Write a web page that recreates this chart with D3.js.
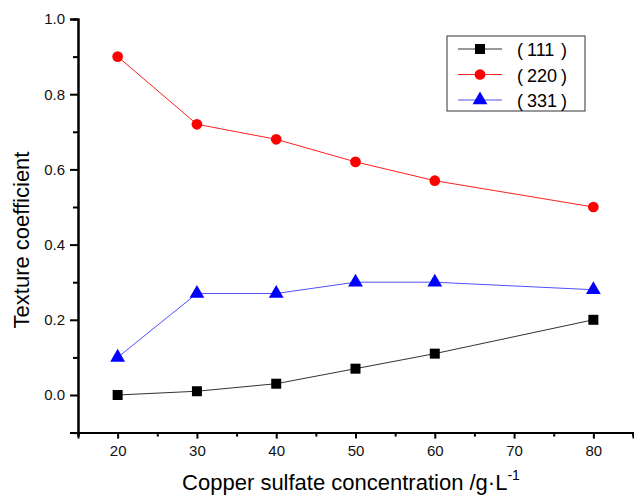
<!DOCTYPE html>
<html>
<head>
<meta charset="utf-8">
<script src="https://cdn.jsdelivr.net/npm/d3@7"></script>
<style>
  body { margin: 0; background: #fff; }
  text { font-family: "Liberation Sans", Arial, sans-serif; }
</style>
</head>
<body>
<div id="chart"></div>
<script>
// Data
const concentrations = [20, 30, 40, 50, 60, 80];
const tc111 = [0.00, 0.01, 0.03, 0.07, 0.11, 0.20];
const tc220 = [0.90, 0.72, 0.68, 0.62, 0.57, 0.50];
const tc331 = [0.10, 0.27, 0.27, 0.30, 0.30, 0.28];
const seriesNames = ["111", "220", "331"];
const xTicks = [20, 30, 40, 50, 60, 70, 80];
const yTicks = [0.0, 0.2, 0.4, 0.6, 0.8, 1.0];

const width = 634;
const height = 497;

const x = d3.scaleLinear().domain([15, 85]).range([78, 633]);
const y = d3.scaleLinear().domain([-0.1, 1.0]).range([432.6, 19]);

const svg = d3.select("#chart")
  .append("svg")
    .attr("width", width)
    .attr("height", height);

// Axes
svg.append("g")
  .attr("transform", `translate(0, ${y(-0.1)})`)
  .call(d3.axisBottom(x).tickValues(xTicks).tickFormat(d3.format("d")).tickSize(6).tickPadding(7));
svg.append("g")
  .attr("transform", `translate(0, ${y(-0.1)})`)
  .call(d3.axisBottom(x).tickValues([15, 25, 35, 45, 55, 65, 75, 85]).tickFormat("").tickSize(4));

svg.append("g")
  .attr("transform", `translate(${x(15)}, 0)`)
  .call(d3.axisLeft(y).tickValues(yTicks).tickFormat(d3.format(".1f")).tickSize(8).tickPadding(5));
svg.append("g")
  .attr("transform", `translate(${x(15)}, 0)`)
  .call(d3.axisLeft(y).tickValues([-0.1, 0.1, 0.3, 0.5, 0.7, 0.9]).tickFormat("").tickSize(5));

svg.selectAll(".domain").attr("stroke", "#000").attr("stroke-width", 2);
svg.selectAll(".tick line").attr("stroke", "#000").attr("stroke-width", 2);
svg.selectAll(".tick text")
  .style("font-size", "15px")
  .attr("fill", "#111");

// Axis titles
svg.append("text")
  .attr("x", 351)
  .attr("y", 490)
  .attr("text-anchor", "middle")
  .style("font-size", "22px")
  .text("Copper sulfate concentration /g·L")
  .append("tspan")
    .attr("dy", -10)
    .style("font-size", "14px")
    .text("-1");

svg.append("text")
  .attr("transform", "translate(29, 240) rotate(-90)")
  .attr("text-anchor", "middle")
  .style("font-size", "22px")
  .text("Texture coefficient");

// Series
const series = [
  { name: seriesNames[0], values: tc111, line: "#333", fill: "#000", shape: d3.symbolSquare, size: 100 },
  { name: seriesNames[1], values: tc220, line: "#ff2020", fill: "#ff0000", shape: d3.symbolCircle, size: 90 },
  { name: seriesNames[2], values: tc331, line: "#5050ff", fill: "#0000ff", shape: d3.symbolTriangle, size: 95 }
];

const line = d3.line()
  .x((d, i) => x(concentrations[i]))
  .y(d => y(d));

series.forEach(s => {
  svg.append("path")
    .attr("d", line(s.values))
    .attr("fill", "none")
    .attr("stroke", s.line)
    .attr("stroke-width", 1);

  svg.selectAll(null)
    .data(s.values)
    .join("path")
      .attr("transform", (d, i) => `translate(${x(concentrations[i])}, ${y(d)})`)
      .attr("d", d3.symbol().type(s.shape).size(s.size))
      .attr("fill", s.fill);
});

// Legend
const legend = svg.append("g").attr("transform", "translate(447, 36)");
legend.append("rect")
  .attr("width", 138)
  .attr("height", 75)
  .attr("fill", "#fff")
  .attr("stroke", "#333")
  .attr("stroke-width", 1);

const rows = legend.selectAll(".row")
  .data(series)
  .join("g")
    .attr("class", "row")
    .attr("transform", (d, i) => `translate(0, ${13 + i * 25.5})`);

rows.append("line")
  .attr("x1", 11)
  .attr("x2", 55)
  .attr("stroke", d => d.line)
  .attr("stroke-width", 1);
rows.append("path")
  .attr("transform", "translate(33, 0)")
  .attr("d", d => d3.symbol().type(d.shape).size(d.size)())
  .attr("fill", d => d.fill);

// wide brackets, spaced like the full-width ones in the original
const labels = rows.append("text")
  .attr("y", 7)
  .style("font-size", "18px");
labels.append("tspan").attr("x", 70).text("(");
labels.append("tspan").attr("x", 80).text(d => d.name);
labels.append("tspan").attr("x", 114).text(")");
</script>
</body>
</html>
